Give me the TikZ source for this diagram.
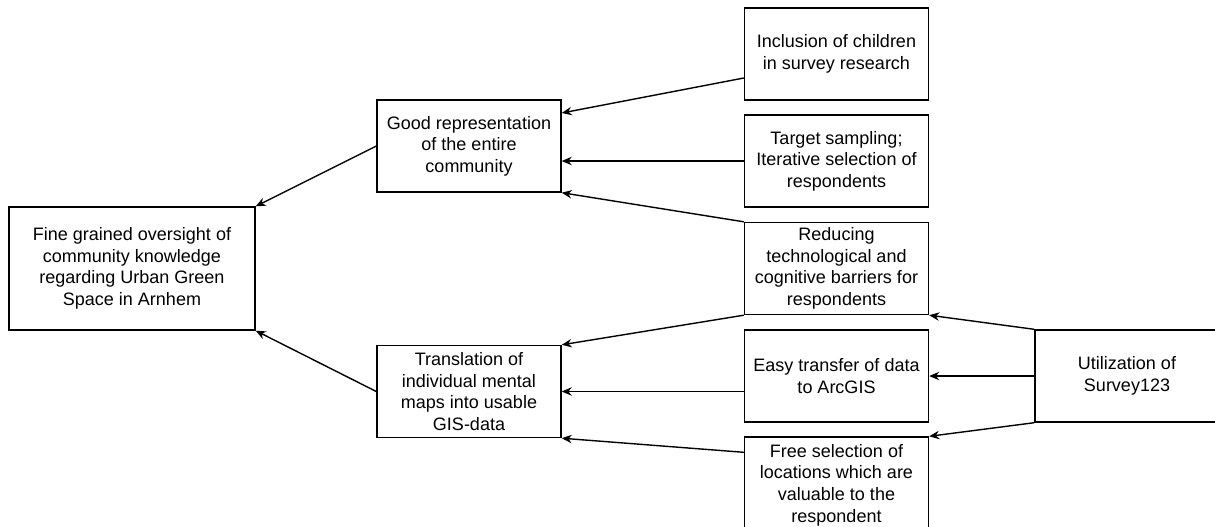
\documentclass[tikz,border=0pt]{standalone}
\usepackage{fontspec}
\setmainfont{Liberation Sans}
\usetikzlibrary{arrows.meta}
\begin{document}
\begin{tikzpicture}[x=0.5pt,y=-0.5pt,line width=0.7pt,
	box/.style={draw, rectangle, inner sep=0pt, align=center, minimum width=92pt, minimum height=46pt, font=\fontsize{9pt}{10.8pt}\selectfont},
	arr/.style={-{Stealth[length=5pt,width=4.2pt]}}]
	\useasboundingbox (0,0) rectangle (1215,526);
	\node (goal) at ( 132, 268.5)	[box, minimum width=123pt, minimum height=61.5pt]	{Fine grained oversight of\\community knowledge\\regarding Urban Green\\Space in Arnhem};
	\node (repr) at ( 469, 146)	[box]	{Good representation\\of the entire\\community};
	\node (trans) at ( 469, 391.5)	[box]	{Translation of\\individual mental\\maps into usable\\GIS-data};
	\node (child) at ( 836.5, 54)	[box]	{Inclusion of children\\in survey research};
	\node (sampl) at ( 836.5, 161)	[box]	{Target sampling;\\Iterative selection of\\respondents};
	\node (barr) at ( 836.5, 268.5)	[box]	{Reducing\\technological and\\cognitive barriers for\\respondents};
	\node (arcgis) at ( 836.5, 376)	[box]	{Easy transfer of data\\to ArcGIS};
	\node (free) at ( 836.5, 485)	[box, minimum height=48pt]	{Free selection of\\locations which are\\valuable to the\\respondent};
	\node (s123) at (1127, 376)	[box]	{Utilization of\\Survey123};
	\draw[arr] (repr.west) -- (goal.north east);
	\draw[arr] (trans.west) -- (goal.south east);
	\draw[arr] ([yshift=-12pt]child.west) -- ([yshift=16.5pt]repr.east);
	\draw[arr] (sampl.west) -- (sampl.west -| repr.east);
	\draw[arr] (barr.north west) -- (repr.south east);
	\draw[arr] (barr.south west) -- (trans.north east);
	\draw[arr] (trans.east -| arcgis.west) -- (trans.east);
	\draw[arr] ([yshift=-8pt]free.north west) -- (trans.south east);
	\draw[arr] (s123.north west) -- (barr.south east);
	\draw[arr] (s123.west) -- (arcgis.east);
	\draw[arr] (s123.south west) -- (free.north east);
\end{tikzpicture}
\end{document}
